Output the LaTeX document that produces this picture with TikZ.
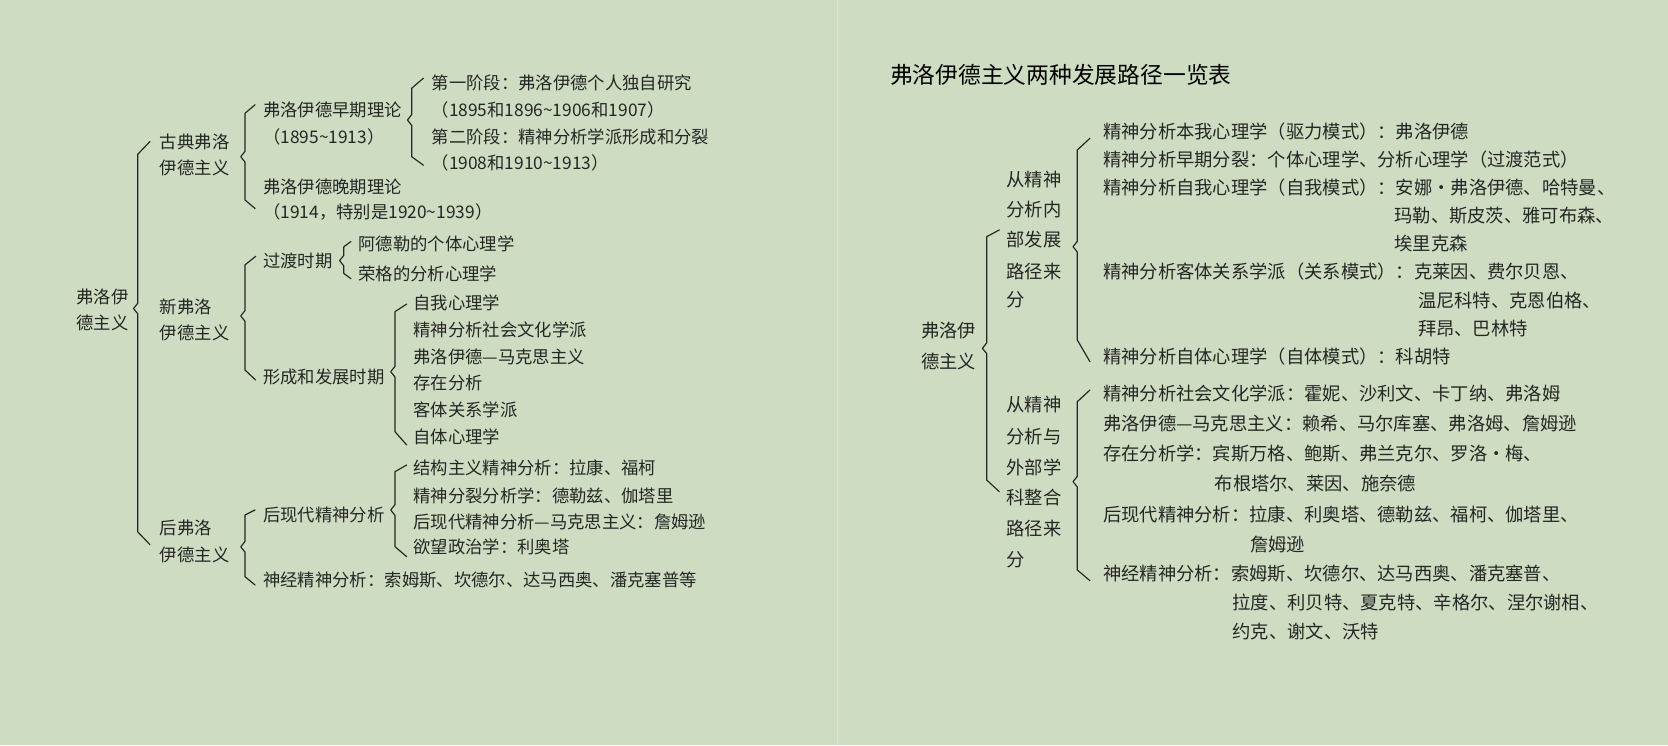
\documentclass[tikz,border=0pt]{standalone}
\usepackage{fontspec}
\setmainfont{Noto Sans CJK SC}
\definecolor{bg}{RGB}{206,221,193}
\definecolor{ink}{RGB}{38,38,38}
\definecolor{divline}{RGB}{218,228,208}
\newcommand\fsL{\fontsize{16.3bp}{20bp}\selectfont}
\newcommand\fsR{\fontsize{17.2bp}{21bp}\selectfont}
\newcommand\fsT{\fontsize{21.4bp}{26bp}\selectfont}
\newcommand\tld{\string~}
% x, ytop, ymid, ybot, hook dx, hook dy top, hook dy bottom
\newcommand\mybrace[7]{\draw[br] (#1+#5,#2-#6) -- (#1,#2) -- (#1,#3-5) -- (#1-4,#3) -- (#1,#3+5) -- (#1,#4) -- (#1+#5,#4+#7);}
\tikzset{
  tl/.style={anchor=base west, inner sep=0pt, outer sep=0pt, text=ink, font=\fsL, yshift=-6.1bp},
  tr/.style={anchor=base west, inner sep=0pt, outer sep=0pt, text=ink, font=\fsR, yshift=-6.5bp},
  tt/.style={anchor=base west, inner sep=0pt, outer sep=0pt, text=black, font=\fsT, yshift=-8bp},
  br/.style={draw=ink, line width=1.1bp, line join=round, line cap=round},
}
\begin{document}
\begin{tikzpicture}[x=1bp,y=-1bp]
\fill[bg] (0,0) rectangle (1568,700.4);
\useasboundingbox (0,0) rectangle (1568,700.4);
\draw[divline, line width=1bp] (787.5,0) -- (787.5,700.4);

% ---------------- left panel ----------------
\node[tl] (rootA) at (72,279) {弗洛伊};
\node[tl] (rootB) at (72,304) {德主义};
\mybrace{129.5}{145}{290}{500}{11.5}{12}{12}

\node[tl] (gdA) at (150.4,133.2) {古典弗洛};
\node[tl] (gdB) at (150.4,158.2) {伊德主义};
\mybrace{230.3}{106.5}{147.3}{188}{9.5}{8}{8}
\node[tl] (earlyA) at (247.5,103.4) {弗洛伊德早期理论};
\node[tl] (earlyB) at (247.5,128.5) {（1895\tld1913）};
\node[tl] (lateA) at (247.5,175.5) {弗洛伊德晚期理论};
\node[tl] (lateB) at (247.5,199) {（1914，特别是1920\tld1939）};
\mybrace{387}{83}{112.8}{147.3}{11}{9.5}{8}
\node[tl] (stA) at (405.8,78.3) {第一阶段：弗洛伊德个人独自研究};
\node[tl] (stB) at (405.8,103.4) {（1895和1896\tld1906和1907）};
\node[tl] (stC) at (405.8,128.5) {第二阶段：精神分析学派形成和分裂};
\node[tl] (stD) at (405.8,153.5) {（1908和1910\tld1913）};

\node[tl] (neoA) at (150.4,288.5) {新弗洛};
\node[tl] (neoB) at (150.4,313.5) {伊德主义};
\mybrace{230.3}{249}{297}{347.8}{10}{8}{9.4}
\node[tl] (trans) at (247.5,245) {过渡时期};
\mybrace{323.2}{232}{245}{257}{6.7}{5}{5}
\node[tl] (adler) at (337,229.5) {阿德勒的个体心理学};
\node[tl] (jung) at (337,257.5) {荣格的分析心理学};
\node[tl] (form) at (247.5,354) {形成和发展时期};
\mybrace{371.3}{293}{349.4}{405.8}{11}{7.2}{12.5}
\node[tl] (fA) at (388.6,285) {自我心理学};
\node[tl] (fB) at (388.6,310.2) {精神分析社会文化学派};
\node[tl] (fC) at (388.6,335.4) {弗洛伊德—马克思主义};
\node[tl] (fD) at (388.6,360.5) {存在分析};
\node[tl] (fE) at (388.6,385.8) {客体关系学派};
\node[tl] (fF) at (388.6,411) {自体心理学};

\node[tl] (postA) at (150.4,496.5) {后弗洛};
\node[tl] (postB) at (150.4,521.3) {伊德主义};
\mybrace{230.3}{484.1}{514}{542.1}{9.5}{4.7}{7.8}
\node[tl] (pm) at (247.5,484.1) {后现代精神分析};
\mybrace{371.3}{443.4}{479.4}{513.9}{11}{6.3}{9.4}
\node[tl] (pmA) at (388.6,439.7) {结构主义精神分析：拉康、福柯};
\node[tl] (pmB) at (388.6,466) {精神分裂分析学：德勒兹、伽塔里};
\node[tl] (pmC) at (388.6,490.9) {后现代精神分析—马克思主义：詹姆逊};
\node[tl] (pmD) at (388.6,514.5) {欲望政治学：利奥塔};
\node[tl] (neuro) at (247.5,545.2) {神经精神分析：索姆斯、坎德尔、达马西奥、潘克塞普等};

% ---------------- right panel ----------------
\node[tt] (title) at (836.7,70.5) {弗洛伊德主义两种发展路径一览表};

\node[tr] (rrA) at (866,311) {弗洛伊};
\node[tr] (rrB) at (866,340) {德主义};
\mybrace{927.5}{222.5}{327.4}{451.2}{11.9}{6.3}{11}

\node[tr] (iA) at (946.3,169.2) {从精神};
\node[tr] (iB) at (946.3,197.4) {分析内};
\node[tr] (iC) at (946.3,225.6) {部发展};
\node[tr] (iD) at (946.3,255.4) {路径来};
\node[tr] (iE) at (946.3,282) {分};
\mybrace{1012.7}{141}{231.9}{319.6}{11.9}{11}{20.4}
\node[tr] (r1) at (1037,123.8) {精神分析本我心理学（驱力模式）：弗洛伊德};
\node[tr] (r2) at (1037,150.4) {精神分析早期分裂：个体心理学、分析心理学（过渡范式）};
\node[tr] (r3) at (1037,176.5) {精神分析自我心理学（自我模式）：安娜·弗洛伊德、哈特曼、};
\node[tr] (r3b) at (1310.8,202.8) {玛勒、斯皮茨、雅可布森、};
\node[tr] (r3c) at (1310.8,229) {埃里克森};
\node[tr] (r4) at (1037,255.4) {精神分析客体关系学派（关系模式）：克莱因、费尔贝恩、};
\node[tr] (r4b) at (1333,282.2) {温尼科特、克恩伯格、};
\node[tr] (r4c) at (1333,308.8) {拜昂、巴林特};
\node[tr] (r5) at (1037,335.3) {精神分析自体心理学（自体模式）：科胡特};

\node[tr] (oA) at (946.3,380.7) {从精神};
\node[tr] (oB) at (946.3,410.5) {分析与};
\node[tr] (oC) at (946.3,439.3) {外部学};
\node[tr] (oD) at (946.3,467.5) {科整合};
\node[tr] (oE) at (946.3,496.6) {路径来};
\node[tr] (oF) at (946.3,525.8) {分};
\mybrace{1012.7}{377.6}{452.8}{535.8}{11.9}{11}{10.1}
\node[tr] (s1) at (1037,369.7) {精神分析社会文化学派：霍妮、沙利文、卡丁纳、弗洛姆};
\node[tr] (s2) at (1037,397.9) {弗洛伊德—马克思主义：赖希、马尔库塞、弗洛姆、詹姆逊};
\node[tr] (s3) at (1037,426.1) {存在分析学：宾斯万格、鲍斯、弗兰克尔、罗洛·梅、};
\node[tr] (s3b) at (1141.9,454.5) {布根塔尔、莱因、施奈德};
\node[tr] (s4) at (1037,484.1) {后现代精神分析：拉康、利奥塔、德勒兹、福柯、伽塔里、};
\node[tr] (s4b) at (1175.4,511.5) {詹姆逊};
\node[tr] (s5) at (1037,538.9) {神经精神分析：索姆斯、坎德尔、达马西奥、潘克塞普、};
\node[tr] (s5b) at (1158.7,566.5) {拉度、利贝特、夏克特、辛格尔、涅尔谢相、};
\node[tr] (s5c) at (1158.7,594) {约克、谢文、沃特};
\end{tikzpicture}
\end{document}
